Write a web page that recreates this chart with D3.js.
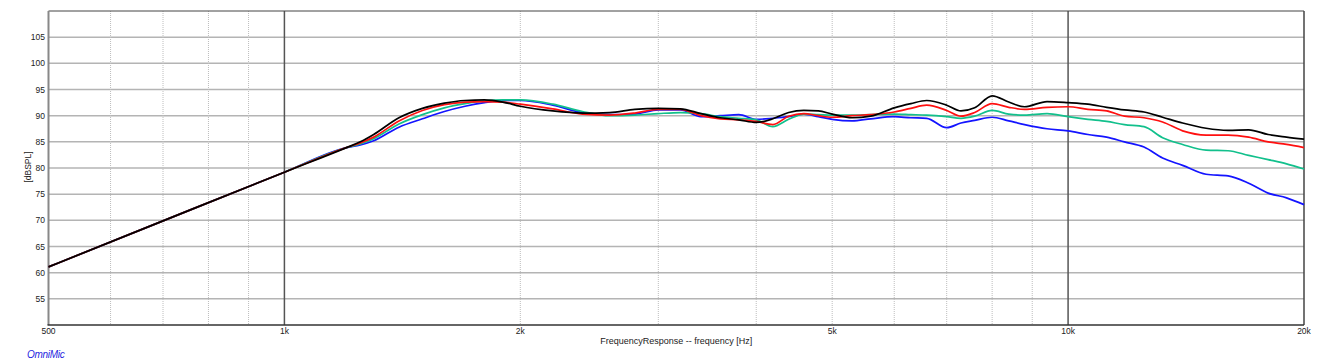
<!DOCTYPE html>
<html>
<head>
<meta charset="utf-8">
<script src="https://cdn.jsdelivr.net/npm/d3@7"></script>
<style>
  body { margin: 0; background: #fff; }
  text { font-family: "Liberation Sans", Arial, Helvetica, sans-serif; }
</style>
</head>
<body>
<div id="chart"></div>
<script>
// frequencies [Hz] shared by all traces
const freqs = [500, 700, 1000, 1200, 1250, 1300, 1400, 1500, 1600, 1700, 1800, 1900, 2000,
  2200, 2400, 2600, 2800, 3000, 3200, 3400, 3600, 3800, 4000, 4200, 4400, 4600, 4800, 5000,
  5300, 5600, 6000, 6300, 6600, 7000, 7300, 7600, 8000, 8400, 8800, 9400, 10000, 10600,
  11200, 11800, 12500, 13200, 14000, 15000, 16000, 17000, 18000, 19000, 20000];

// dBSPL per trace
const blueVals = [61.1, 69.9, 79.2, 83.9, 84.4, 85.2, 87.8, 89.4, 90.8, 91.8, 92.5, 92.9, 92.9,
  92.0, 90.6, 90.2, 90.3, 91.1, 91.1, 89.8, 90.0, 90.2, 89.3, 89.5, 89.8, 90.3, 89.8, 89.3,
  89.0, 89.4, 89.8, 89.6, 89.5, 87.7, 88.6, 89.1, 89.7, 89.0, 88.3, 87.5, 87.1, 86.4,
  85.9, 85.0, 84.0, 81.9, 80.5, 78.8, 78.5, 77.1, 75.2, 74.3, 73.0];
const greenVals = [61.1, 69.9, 79.2, 83.9, 84.6, 85.6, 88.4, 90.2, 91.5, 92.3, 92.8, 93.0, 93.0,
  92.2, 90.8, 90.0, 90.1, 90.4, 90.6, 90.4, 89.8, 89.5, 89.2, 87.9, 89.3, 90.3, 90.2, 90.1,
  90.1, 90.2, 90.3, 90.2, 90.1, 89.8, 89.5, 89.9, 91.0, 90.3, 90.1, 90.4, 89.8, 89.3,
  88.9, 88.3, 87.9, 85.8, 84.5, 83.4, 83.3, 82.4, 81.6, 80.8, 79.8];
const redVals = [61.1, 69.9, 79.2, 83.9, 84.8, 85.9, 89.0, 91.0, 92.1, 92.6, 92.7, 92.6, 92.2,
  91.3, 90.3, 90.1, 90.5, 91.2, 91.2, 90.0, 89.4, 89.2, 88.9, 88.3, 89.9, 90.4, 90.0, 89.7,
  90.0, 90.2, 90.7, 91.4, 92.0, 91.0, 89.9, 90.6, 92.3, 91.6, 91.2, 91.6, 91.7, 91.2,
  90.9, 89.9, 89.6, 88.8, 87.1, 86.3, 86.3, 85.9, 85.0, 84.5, 83.9];
const blackVals = [61.1, 69.9, 79.2, 83.9, 85.0, 86.4, 89.6, 91.4, 92.4, 92.9, 93.0, 92.6, 91.8,
  90.9, 90.5, 90.6, 91.2, 91.4, 91.3, 90.4, 89.6, 89.2, 88.7, 89.4, 90.6, 91.0, 90.9, 90.3,
  89.6, 89.9, 91.5, 92.3, 92.9, 92.0, 90.9, 91.5, 93.8, 92.6, 91.7, 92.7, 92.5, 92.2,
  91.6, 91.1, 90.7, 89.7, 88.6, 87.6, 87.2, 87.3, 86.4, 85.9, 85.5];

const xTicks = [500, 1000, 2000, 5000, 10000, 20000];
const xTickLabels = ["500", "1k", "2k", "5k", "10k", "20k"];
const minorX = [600, 700, 800, 900, 2000, 3000, 4000, 5000, 6000, 7000, 8000, 9000];
const majorX = [1000, 10000];
const yTicks = [55, 60, 65, 70, 75, 80, 85, 90, 95, 100, 105];

const series = [
  { vals: blueVals, color: "#1414ff" },
  { vals: greenVals, color: "#12c08c" },
  { vals: redVals, color: "#ff1010" },
  { vals: blackVals, color: "#000000" }
];

const W = 1317, H = 362;
const plotL = 48.5, plotR = 1304, plotT = 11, plotB = 325;

const svg = d3.select("#chart").append("svg").attr("width", W).attr("height", H);

const x = d3.scaleLog().domain([500, 20000]).range([plotL, plotR]);
const y = d3.scaleLinear().domain([50, 110]).range([plotB, plotT]);

// horizontal grid
svg.append("g").selectAll("line").data(yTicks).join("line")
  .attr("x1", plotL).attr("x2", plotR)
  .attr("y1", d => y(d)).attr("y2", d => y(d))
  .attr("stroke", "#b4b4b4").attr("stroke-width", 1.5);

// minor verticals (dotted)
svg.append("g").selectAll("line").data(minorX).join("line")
  .attr("x1", d => x(d)).attr("x2", d => x(d))
  .attr("y1", plotT).attr("y2", plotB)
  .attr("stroke", "#bdbdbd").attr("stroke-width", 1)
  .attr("stroke-dasharray", "1,1");

// decade lines
svg.append("g").selectAll("line").data(majorX).join("line")
  .attr("x1", d => x(d)).attr("x2", d => x(d))
  .attr("y1", plotT).attr("y2", plotB)
  .attr("stroke", "#555").attr("stroke-width", 1.5);

// frame
svg.append("line").attr("x1", plotL).attr("x2", plotR).attr("y1", plotT).attr("y2", plotT)
  .attr("stroke", "#444").attr("stroke-width", 1);
svg.append("line").attr("x1", plotR).attr("x2", plotR).attr("y1", plotT).attr("y2", plotB)
  .attr("stroke", "#444").attr("stroke-width", 1.5);
svg.append("line").attr("x1", plotL).attr("x2", plotL).attr("y1", plotT).attr("y2", plotB)
  .attr("stroke", "#888").attr("stroke-width", 2);
svg.append("line").attr("x1", plotL - 1).attr("x2", plotR).attr("y1", plotB).attr("y2", plotB)
  .attr("stroke", "#333").attr("stroke-width", 1.5);

// traces
var lineFunc = d3.line()
  .x(function (d) { return x(d[0]) })
  .y(function (d) { return y(d[1]) })
  .curve(d3.curveMonotoneX);

series.forEach(function (s) {
  svg.append("path")
    .attr("d", lineFunc(freqs.map((f, i) => [f, s.vals[i]])))
    .attr("fill", "none")
    .attr("stroke", s.color)
    .attr("stroke-width", 1.7)
    .attr("stroke-linejoin", "round");
});

// tick labels
svg.append("g").selectAll("text").data(yTicks).join("text")
  .attr("x", 45).attr("y", d => y(d) + 3)
  .attr("text-anchor", "end")
  .attr("font-size", 8.5).attr("fill", "#222")
  .text(d => d);

svg.append("g").selectAll("text").data(xTicks).join("text")
  .attr("x", d => x(d)).attr("y", 334)
  .attr("text-anchor", "middle")
  .attr("font-size", 8.5).attr("fill", "#222")
  .text((d, i) => xTickLabels[i]);

svg.append("text")
  .attr("x", (plotL + plotR) / 2).attr("y", 344)
  .attr("text-anchor", "middle")
  .attr("font-size", 9).attr("fill", "#222")
  .text("FrequencyResponse -- frequency [Hz]");

svg.append("text")
  .attr("transform", "translate(31,167) rotate(-90)")
  .attr("text-anchor", "middle")
  .attr("font-size", 8.5).attr("fill", "#222")
  .text("[dBSPL]");

svg.append("text")
  .attr("x", 27).attr("y", 358)
  .attr("font-size", 10).attr("font-style", "italic")
  .attr("fill", "#2626e0")
  .attr("letter-spacing", -0.3)
  .text("OmniMic");
</script>
</body>
</html>
